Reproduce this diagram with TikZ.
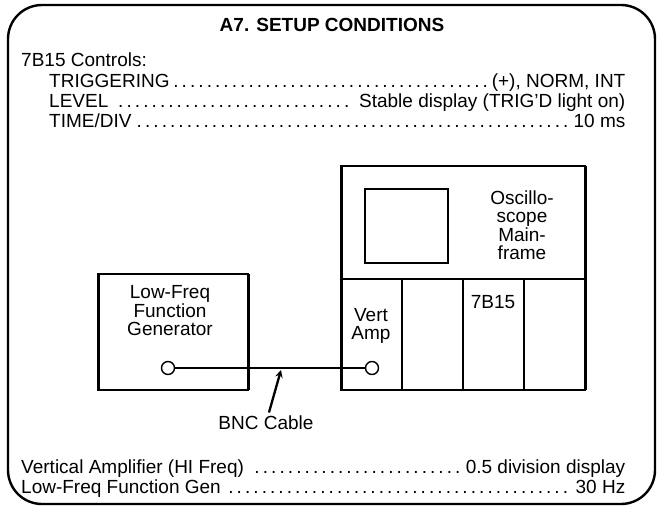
\documentclass[tikz,border=0pt]{standalone}
\usepackage{fontspec}
\setmainfont{Liberation Sans}
\begin{document}
\begin{tikzpicture}[x=1pt,y=-1pt,
  font=\fontsize{19}{18.5}\selectfont,
  box/.style={draw,line width=1.6pt},
  jack/.style={draw,circle,line width=1.4pt,minimum size=13pt,inner sep=0pt},
  leader/.style={anchor=base west,inner sep=0pt}]
  \useasboundingbox (0,0) rectangle (661,508);
  \draw[line width=2.4pt,rounded corners=34pt] (8,5) rectangle (655,504);
  \node[font=\fontsize{19}{22}\selectfont\bfseries,anchor=base] (title) at (332,32) {A7. SETUP CONDITIONS};
  % 7B15 settings
  \node[leader] (ctrl) at (21,67) {7B15 Controls:};
  \node[leader] (trig) at (49,88) {\makebox[576pt][s]{TRIGGERING\dotfill(+), NORM, INT}};
  \node[leader] (level) at (49,108) {\makebox[576pt][s]{LEVEL \dotfill{} Stable display (TRIG'D light on)}};
  \node[leader] (timediv) at (49,128) {\makebox[576pt][s]{TIME/DIV\dotfill10 ms}};
  % mainframe
  \draw[box] (341,166) rectangle (585,390);
  \draw[line width=3pt] (341,166) -- (341,390) (585,166) -- (585,390);
  \draw[box] (365,189) rectangle (448,263);
  \draw[box] (341,279) -- (585,279);
  \foreach \x in {402,463,524}
    \draw[box] (\x,279) -- (\x,390);
  \node[align=center] (scope) at (522,225) {Oscillo-\\scope\\Main-\\frame};
  \node[align=center] (vert) at (371,326) {Vert\\Amp};
  \node (plugin) at (493,302) {7B15};
  % generator
  \draw[box] (98,274) rectangle (248,390);
  \draw[line width=3pt] (98,274) -- (98,390) (248,274) -- (248,390);
  \node[align=center] (gen) at (170,311) {Low-Freq\\Function\\Generator};
  \node[jack] (genout) at (168,368) {};
  \node[jack] (ampin) at (372,368) {};
  \draw[line width=1.3pt] (genout) -- (ampin);
  \coordinate (cable) at (281,370);
  \node (bnc) at (266,423) {BNC Cable};
  \draw[-stealth,line width=2.3pt] (bnc) -- (cable);
  % check settings
  \node[leader] (vamp) at (21,473) {\makebox[604pt][s]{Vertical Amplifier (HI Freq) \dotfill0.5 division display}};
  \node[leader] (fgen) at (21,493) {\makebox[604pt][s]{Low-Freq Function Gen \dotfill{} 30 Hz}};
\end{tikzpicture}
\end{document}
